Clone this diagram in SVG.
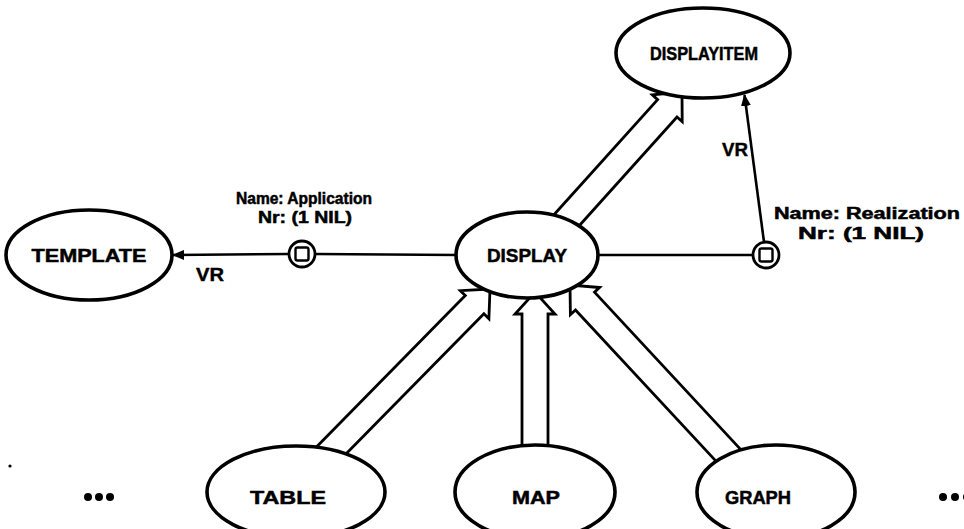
<svg xmlns="http://www.w3.org/2000/svg" width="964" height="529" viewBox="0 0 964 529">
  <defs>
    <marker id="solid-head" viewBox="0 0 12 10" refX="11" refY="5" markerWidth="12" markerHeight="10" markerUnits="userSpaceOnUse" orient="auto">
      <path d="M0,0 L12,5 L0,10 z" fill="#000"/>
    </marker>
    <style>
      .node { fill: #fff; stroke: #000; stroke-width: 3.6; }
      .label { font-family: "Liberation Sans", Arial, sans-serif; font-weight: bold; font-size: 19px; text-anchor: middle; fill: #000; stroke: #000; stroke-width: 0.5; }
      .note { font-family: "Liberation Sans", Arial, sans-serif; font-weight: bold; font-size: 16px; text-anchor: middle; fill: #000; stroke: #000; stroke-width: 0.5; }
      .role { font-family: "Liberation Sans", Arial, sans-serif; font-weight: bold; font-size: 18px; fill: #000; stroke: #000; stroke-width: 0.4; }
      .link { fill: none; stroke: #000; stroke-width: 2.6; }
      .isa { fill: #fff; stroke: #000; stroke-width: 2.8; stroke-linejoin: miter; }
      .anchor { fill: #fff; stroke: #000; stroke-width: 2.8; }
      .box { fill: #fff; stroke: #000; stroke-width: 2.4; }
    </style>
  </defs>
  <rect width="964" height="529" fill="#fff"/>

  <!-- connectors: drawn first so node fills hide the line ends -->
  <g id="connectors">
    <!-- hollow specialisation arrows -->
    <path class="isa" d="M546.3,223.3 L657.6,99.6 L652.4,94.9 L682,92 L682.2,121.7 L677.0,117.0 L565.7,240.7"/>
    <path class="isa" d="M302.7,460.9 L465.3,295.6 L460.3,290.7 L490,289 L488.9,318.7 L483.9,313.8 L321.3,479.1"/>
    <path class="isa" d="M522,470 L522,314 L515,314 L535,292 L555,314 L548,314 L548,470"/>
    <path class="isa" d="M751.5,461.1 L594.5,292.2 L599.6,287.5 L570,285 L570.4,314.7 L575.5,310.0 L732.5,478.9"/>
    <!-- value-restriction links -->
    <line class="link" x1="289" y1="254" x2="173" y2="255" marker-end="url(#solid-head)"/>
    <line class="link" x1="315" y1="254" x2="458" y2="255"/>
    <line class="link" x1="596" y1="255" x2="753" y2="255"/>
    <line class="link" x1="764" y1="242" x2="744.5" y2="95" marker-end="url(#solid-head)"/>
    <text class="role" x="196" y="281" textLength="28" lengthAdjust="spacingAndGlyphs">VR</text>
    <text class="role" x="722" y="156" textLength="26" lengthAdjust="spacingAndGlyphs">VR</text>
  </g>

  <g id="displayitem">
    <ellipse class="node" cx="703" cy="53" rx="87" ry="45"/>
    <text class="label" x="704" y="60" textLength="108" lengthAdjust="spacingAndGlyphs">DISPLAYITEM</text>
  </g>

  <g id="template">
    <ellipse class="node" cx="89" cy="255" rx="83" ry="45"/>
    <text class="label" x="89" y="262" textLength="115" lengthAdjust="spacingAndGlyphs">TEMPLATE</text>
  </g>

  <g id="display">
    <ellipse class="node" cx="527" cy="255" rx="71" ry="43"/>
    <text class="label" x="527" y="262" textLength="80" lengthAdjust="spacingAndGlyphs">DISPLAY</text>
  </g>

  <g id="application">
    <circle class="anchor" cx="302" cy="254" r="13"/>
    <rect class="box" x="295.5" y="247.5" width="13" height="13" rx="2"/>
    <text class="note" x="304" y="204" textLength="136" lengthAdjust="spacingAndGlyphs">Name: Application</text>
    <text class="note" x="305" y="223" textLength="94" lengthAdjust="spacingAndGlyphs">Nr: (1 NIL)</text>
  </g>

  <g id="realization">
    <circle class="anchor" cx="766" cy="255" r="13"/>
    <rect class="box" x="759.5" y="248.5" width="13" height="13" rx="2"/>
    <text class="note" x="867" y="219" textLength="186" lengthAdjust="spacingAndGlyphs">Name: Realization</text>
    <text class="note" x="861" y="239" textLength="126" lengthAdjust="spacingAndGlyphs">Nr: (1 NIL)</text>
  </g>

  <g id="table">
    <ellipse class="node" cx="296" cy="492" rx="89" ry="46"/>
    <text class="label" x="288" y="504" textLength="76" lengthAdjust="spacingAndGlyphs">TABLE</text>
  </g>

  <g id="map">
    <ellipse class="node" cx="535" cy="492" rx="80" ry="47"/>
    <text class="label" x="536" y="504" textLength="48" lengthAdjust="spacingAndGlyphs">MAP</text>
  </g>

  <g id="graph">
    <ellipse class="node" cx="776" cy="492" rx="79" ry="47"/>
    <text class="label" x="758" y="504" textLength="66" lengthAdjust="spacingAndGlyphs">GRAPH</text>
  </g>

  <!-- continuation marks -->
  <g id="more-left" fill="#000">
    <circle cx="88" cy="497" r="4"/>
    <circle cx="99" cy="497" r="4"/>
    <circle cx="110" cy="497" r="4"/>
    <circle cx="10" cy="466" r="1.6"/>
  </g>
  <g id="more-right" fill="#000">
    <circle cx="943" cy="497" r="4"/>
    <circle cx="955" cy="497" r="4"/>
    <circle cx="967" cy="497" r="4"/>
  </g>
</svg>
